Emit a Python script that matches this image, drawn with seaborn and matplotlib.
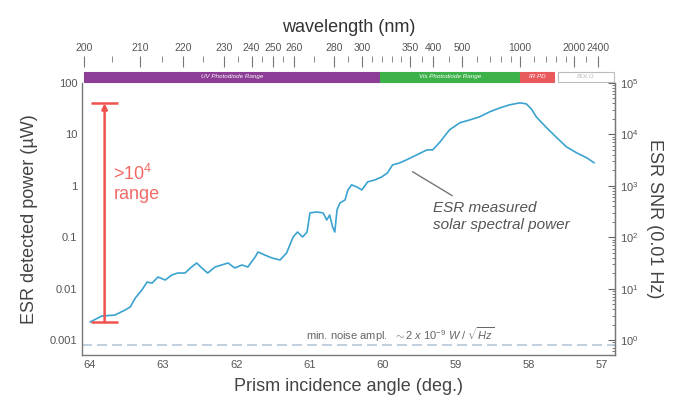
import numpy as np
import pandas as pd
import seaborn as sns
import matplotlib
matplotlib.use('Agg')
import matplotlib.pyplot as plt
from matplotlib.ticker import AutoMinorLocator, FixedLocator, NullFormatter, LogLocator

sns.set_style('white')
plt.rcParams['font.family'] = ['Liberation Sans', 'DejaVu Sans']
plt.rcParams['mathtext.fontset'] = 'custom'
plt.rcParams['mathtext.it'] = 'Liberation Sans:italic'
plt.rcParams['mathtext.rm'] = 'Liberation Sans'

# measured solar spectral power vs prism incidence angle
angle = [64.00, 63.84, 63.66, 63.52, 63.45, 63.38, 63.29, 63.22, 63.15, 63.07,
         62.97, 62.88, 62.80, 62.70, 62.61, 62.54, 62.47, 62.39, 62.29, 62.20,
         62.11, 62.02, 61.92, 61.84, 61.74, 61.70, 61.61, 61.51, 61.40, 61.31,
         61.22, 61.16, 61.09, 61.03, 60.99, 60.90, 60.81, 60.76, 60.72, 60.68,
         60.65, 60.62, 60.58, 60.51, 60.47, 60.42, 60.35, 60.28, 60.20, 60.10,
         60.01, 59.93, 59.86, 59.76, 59.67, 59.53, 59.39, 59.31, 59.21, 59.08,
         58.94, 58.80, 58.67, 58.53, 58.39, 58.26, 58.12, 58.03, 57.96, 57.89,
         57.75, 57.61, 57.48, 57.34, 57.20, 57.10]
power = [0.00224, 0.00293, 0.00306, 0.00384, 0.00439, 0.00656, 0.0094, 0.0134, 0.0128, 0.0168,
         0.0147, 0.0184, 0.0201, 0.0201, 0.0263, 0.0315, 0.0252, 0.0201, 0.0263, 0.0288,
         0.0315, 0.0252, 0.0288, 0.0263, 0.0412, 0.0515, 0.0451, 0.0394, 0.0360, 0.0493,
         0.101, 0.126, 0.101, 0.126, 0.296, 0.309, 0.296, 0.216, 0.270, 0.158,
         0.126, 0.338, 0.462, 0.530, 0.828, 1.04, 0.948, 0.828, 1.19, 1.30,
         1.48, 1.77, 2.54, 2.78, 3.18, 3.97, 4.97, 4.97, 7.11, 12.2,
         16.7, 19.1, 21.8, 27.3, 32.6, 37.3, 40.8, 39.0, 31.0, 21.5,
         13.3, 8.51, 5.69, 4.35, 3.47, 2.78]

# wavelength calibration of the prism (angle -> nm)
cal_wl = [198, 200, 210, 220, 230, 240, 250, 260, 280, 300, 350, 400, 500, 1000, 2000, 2400, 2800]
cal_ang = [64.20, 64.08, 63.32, 62.73, 62.17, 61.79, 61.50, 61.21, 60.66, 60.28,
           59.62, 59.30, 58.91, 58.12, 57.38, 57.05, 56.70]
wl_major = [200, 210, 220, 230, 240, 250, 260, 280, 300, 350, 400, 500, 1000, 2000, 2400]
wl_minor = [205, 215, 225, 235, 245, 255, 270, 290, 310, 320, 330, 340, 375, 450,
            600, 700, 800, 900, 1200, 1400, 1600, 1800, 2200]

# detector bands (nm)
bands = ['UV Photodiode Range', 'Vis Photodiode Range', 'IR PD', 'BOLO.']
band_start = [200, 318, 1000, 1640]
band_end = [318, 1000, 1560, 2650]
band_colors = ['#8c3d95', '#3db24b', '#e85a5c', 'white']

noise_floor = 0.0008
range_low, range_high = 0.0022, 40.0

cal_wl_log = np.log(cal_wl)
cal_ang_arr = np.array(cal_ang)


def ang2wl(a):
    a = np.asarray(a, dtype=float)
    return np.exp(np.interp(-a, -cal_ang_arr, cal_wl_log))


def wl2ang(w):
    w = np.clip(np.asarray(w, dtype=float), 1e-3, None)
    return np.interp(np.log(w), cal_wl_log, cal_ang_arr)


df = pd.DataFrame({'angle': angle, 'power': power})

fig = plt.figure(figsize=(6.83, 4.04), dpi=100)
ax = fig.add_axes([0.120, 0.121, 0.780, 0.674])

sns.lineplot(x='angle', y='power', data=df, ax=ax, color='#3aa3cf', lw=1.2,
             estimator=None, sort=False)
ax.set_yscale('log')
ax.set_xlim(64.11, 56.82)
ax.set_ylim(0.00051, 100)

# noise floor
ax.axhline(noise_floor, color='#b8c8d8', lw=1.2, ls=(0, (6, 3)))
ax.text(59.75, 0.0013, r'min. noise ampl.  $\it{\sim 2\ x\ 10^{-9}\ W\ /\ \sqrt{Hz}}$',
        ha='center', va='center', fontsize=8, color='#666666')

# dynamic range bar
red = '#f0524f'
ax.annotate('', xy=(63.80, range_high), xytext=(63.80, range_low),
            arrowprops=dict(arrowstyle='-|>', color=red, lw=1.8, mutation_scale=8,
                            shrinkA=0, shrinkB=0))
ax.hlines([range_low, range_high], 63.98, 63.62, color=red, lw=1.8)
ax.text(63.68, 1.1, '>10$^4$\nrange', color='#f06a66', fontsize=13,
        ha='left', va='center', linespacing=1.1)

# curve annotation
ax.annotate('', xy=(59.62, 2.0), xytext=(59.01, 0.6),
            arrowprops=dict(arrowstyle='-', color='#777777', lw=1.0))
ax.text(59.30, 0.25, 'ESR measured\nsolar spectral power', fontsize=11,
        style='italic', color='#555555', ha='left', va='center', linespacing=1.3)

# detector band bar above the plot
for name, s, e, c in zip(bands, band_start, band_end, band_colors):
    a0, a1 = wl2ang(s), wl2ang(e)
    ax.axvspan(a0, a1, ymin=1.004, ymax=1.040, color=c, clip_on=False,
               ec='#bbbbbb' if c == 'white' else c, lw=0.8)
    ax.text((a0 + a1) / 2, 1.022, name, transform=ax.get_xaxis_transform(),
            ha='center', va='center', fontsize=4.5, style='italic',
            color='#bbbbbb' if c == 'white' else 'white', clip_on=False)

# ticks
tick_color = '#555555'
ax.xaxis.set_major_locator(FixedLocator([64, 63, 62, 61, 60, 59, 58, 57]))
ax.xaxis.set_minor_locator(AutoMinorLocator(4))
ax.yaxis.set_minor_locator(LogLocator(base=10, subs=np.arange(2, 10), numticks=10))
ax.yaxis.set_minor_formatter(NullFormatter())
ax.set_yticks([0.001, 0.01, 0.1, 1, 10, 100])
ax.set_yticklabels(['0.001', '0.01', '0.1', '1', '10', '100'])
ax.tick_params(which='both', direction='in', colors='#666666', labelcolor=tick_color,
               labelsize=8)
ax.tick_params(which='major', length=5)
ax.tick_params(which='minor', length=2.5)
for s in ax.spines.values():
    s.set_color('#777777')
    s.set_linewidth(1.0)
ax.spines['top'].set_visible(False)

ax.set_xlabel('Prism incidence angle (deg.)', fontsize=13, color='#444444', labelpad=6)
ax.set_ylabel('ESR detected power (\u00b5W)', fontsize=13, color='#444444', labelpad=8)

# right axis: SNR
sec_y = ax.secondary_yaxis('right', functions=(lambda p: p * 1e3, lambda s: s / 1e3))
sec_y.set_yticks([1, 10, 100, 1000, 10000, 100000])
sec_y.yaxis.set_minor_locator(LogLocator(base=10, subs=np.arange(2, 10), numticks=10))
sec_y.yaxis.set_minor_formatter(NullFormatter())
sec_y.tick_params(which='both', direction='in', colors='#666666', labelcolor=tick_color,
                  labelsize=8)
sec_y.tick_params(which='major', length=5)
sec_y.tick_params(which='minor', length=2.5)
sec_y.spines['right'].set_color('#777777')
sec_y.set_ylabel('ESR SNR (0.01 Hz)', fontsize=13, color='#444444', rotation=270,
                 labelpad=18)

# top axis: wavelength
sec_x = ax.secondary_xaxis(1.10, functions=(ang2wl, wl2ang))
sec_x.xaxis.set_major_locator(FixedLocator(wl_major))
sec_x.xaxis.set_minor_locator(FixedLocator(wl_minor))
sec_x.xaxis.set_minor_formatter(NullFormatter())
sec_x.set_xticklabels([str(w) for w in wl_major])
sec_x.tick_params(which='both', direction='in', colors='#777777', labelcolor=tick_color,
                  labelsize=7.5, pad=2)
sec_x.tick_params(which='major', length=8)
sec_x.tick_params(which='minor', length=4)
sec_x.spines['top'].set_visible(False)
sec_x.set_xlabel('wavelength (nm)', fontsize=13, color='#333333', labelpad=8)

fig.savefig('out.png', dpi=100)
